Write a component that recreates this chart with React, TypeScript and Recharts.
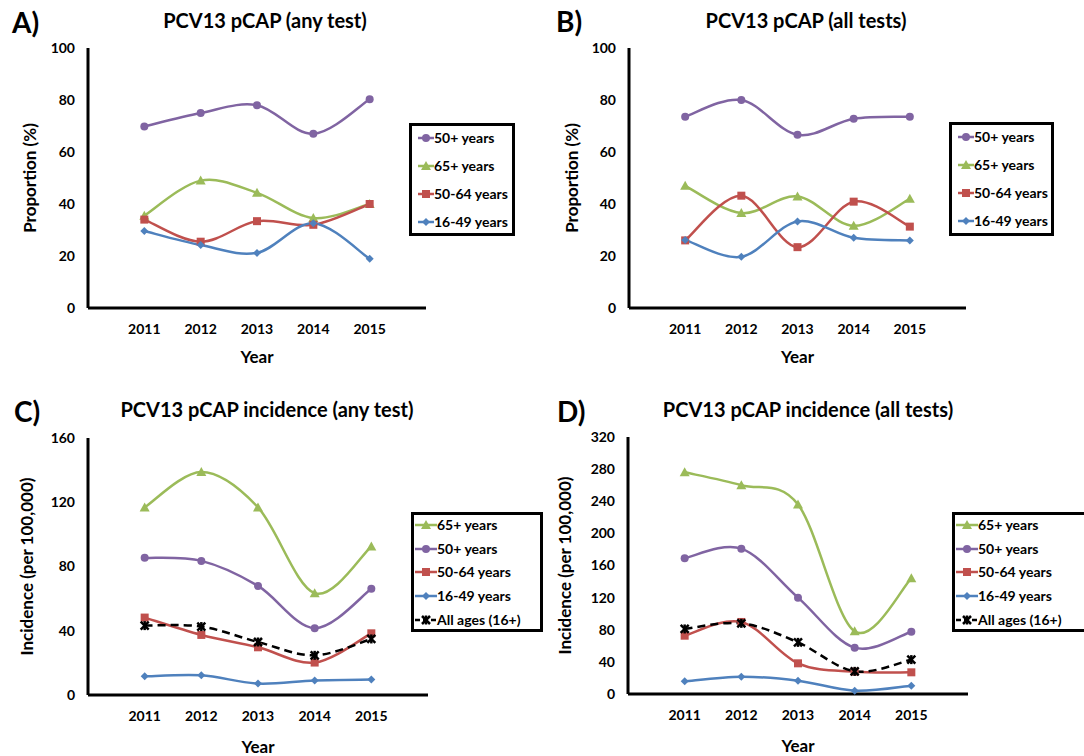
import React from "react";
import { LineChart, Line, XAxis, YAxis, Legend, Label } from "recharts";

const years = [2011, 2012, 2013, 2014, 2015];

// A) PCV13 pCAP (any test), proportion %
const anyTest50plus = [69.8, 75, 78, 67, 80.3];
const anyTest65plus = [35.5, 49, 44.3, 34.6, 40];
const anyTest5064 = [34, 25.5, 33.4, 32, 40];
const anyTest1649 = [29.6, 24.2, 21.2, 32.6, 18.9];

// B) PCV13 pCAP (all tests), proportion %
const allTests50plus = [73.6, 80, 66.6, 72.8, 73.6];
const allTests65plus = [47, 36.5, 42.9, 31.6, 42];
const allTests5064 = [26, 43.2, 23.4, 40.9, 31.3];
const allTests1649 = [26.2, 19.7, 33.3, 27, 26];

// C) incidence (any test), per 100,000
const incAny65plus = [116.8, 138.8, 116.8, 63.4, 92.5];
const incAny50plus = [85.4, 83.5, 67.9, 41.6, 66.1];
const incAny5064 = [48.2, 37.4, 29.7, 20.2, 38.4];
const incAny1649 = [11.6, 12.3, 7.1, 9.1, 9.6];
const incAnyAll = [43.2, 42.6, 33, 24.7, 34.9];

// D) incidence (all tests), per 100,000
const incAll65plus = [276, 260, 236, 78, 144];
const incAll50plus = [169, 181, 120, 57.7, 77.6];
const incAll5064 = [72.6, 89.7, 38.2, 27.8, 27];
const incAll1649 = [15.8, 21.6, 16.6, 4.2, 10.4];
const incAllAll = [81, 88, 64.3, 28.2, 42.8];

const propTicks = [0, 20, 40, 60, 80, 100];
const incAnyTicks = [0, 40, 80, 120, 160];
const incAllTicks = [0, 40, 80, 120, 160, 200, 240, 280, 320];

const PURPLE = "#8064A2";
const GREEN = "#9BBB59";
const RED = "#C0504D";
const BLUE = "#4F81BD";
const FONT = "Lato, 'Open Sans', sans-serif";

// excel-style smoothed line (catmull-rom as cubic beziers)
const curveExcel = (context: any) => {
  let pts: number[][] = [];
  return {
    areaStart() {},
    areaEnd() {},
    lineStart() {
      pts = [];
    },
    point(x: number, y: number) {
      pts.push([+x, +y]);
    },
    lineEnd() {
      const n = pts.length;
      if (!n) return;
      context.moveTo(pts[0][0], pts[0][1]);
      for (let i = 0; i < n - 1; i++) {
        const p0 = pts[i - 1] || pts[i];
        const p1 = pts[i];
        const p2 = pts[i + 1];
        const p3 = pts[i + 2] || pts[i + 1];
        context.bezierCurveTo(
          p1[0] + (p2[0] - p0[0]) / 6,
          p1[1] + (p2[1] - p0[1]) / 6,
          p2[0] - (p3[0] - p1[0]) / 6,
          p2[1] - (p3[1] - p1[1]) / 6,
          p2[0],
          p2[1]
        );
      }
    },
  };
};

const Marker = ({ shape, x, y, color }: any) => {
  switch (shape) {
    case "circle":
      return <circle cx={x} cy={y} r={4} fill={color} />;
    case "square":
      return <rect x={x - 4} y={y - 4} width={8} height={8} fill={color} />;
    case "triangle":
      return <polygon points={`${x},${y - 5} ${x + 5},${y + 4} ${x - 5},${y + 4}`} fill={color} />;
    case "diamond":
      return <polygon points={`${x},${y - 4} ${x + 4},${y} ${x},${y + 4} ${x - 4},${y}`} fill={color} />;
    default:
      return (
        <g stroke={color} strokeWidth={2.5}>
          <line x1={x - 4} y1={y - 4} x2={x + 4} y2={y + 4} />
          <line x1={x - 4} y1={y + 4} x2={x + 4} y2={y - 4} />
          <line x1={x} y1={y - 4.5} x2={x} y2={y + 4.5} />
        </g>
      );
  }
};

const s50plus = { key: "s50plus", name: "50+ years", color: PURPLE, shape: "circle" };
const s65plus = { key: "s65plus", name: "65+ years", color: GREEN, shape: "triangle" };
const s5064 = { key: "s5064", name: "50-64 years", color: RED, shape: "square" };
const s1649 = { key: "s1649", name: "16-49 years", color: BLUE, shape: "diamond" };
const sAll = { key: "sAll", name: "All ages (16+)", color: "#000", shape: "star", dashed: true };

const panels = [
  {
    letter: "A)", title: "PCV13 pCAP (any test)", yLabel: "Proportion (%)",
    left: 0, top: 0, yMax: 100, yTicks: propTicks,
    margin: { top: 48, right: 114, bottom: 8, left: 28 }, xHeight: 62, yearOffset: 7, yLabelOffset: 2,
    letterPos: [12, 33], titlePos: [265, 28],
    legend: { left: 409, top: 123, width: 106, height: 113, first: 14.5, step: 28.2, pad: 9, sample: 16 },
    series: [
      { ...s50plus, values: anyTest50plus },
      { ...s65plus, values: anyTest65plus },
      { ...s5064, values: anyTest5064 },
      { ...s1649, values: anyTest1649 },
    ],
  },
  {
    letter: "B)", title: "PCV13 pCAP (all tests)", yLabel: "Proportion (%)",
    left: 540, top: 0, yMax: 100, yTicks: propTicks,
    margin: { top: 48, right: 114, bottom: 8, left: 29 }, xHeight: 62, yearOffset: 7, yLabelOffset: 3,
    letterPos: [16, 32], titlePos: [266, 28],
    legend: { left: 409, top: 122, width: 105, height: 114, first: 14.5, step: 28.2, pad: 9, sample: 16 },
    series: [
      { ...s50plus, values: allTests50plus },
      { ...s65plus, values: allTests65plus },
      { ...s5064, values: allTests5064 },
      { ...s1649, values: allTests1649 },
    ],
  },
  {
    letter: "C)", title: "PCV13 pCAP incidence (any test)", yLabel: "Incidence (per 100,000)",
    left: 0, top: 378, yMax: 160, yTicks: incAnyTicks,
    margin: { top: 60, right: 112, bottom: 3, left: 28 }, xHeight: 58, yearOffset: 0, yLabelOffset: -1,
    letterPos: [14, 44], titlePos: [267, 39],
    legend: { left: 411, top: 134, width: 132, height: 120, first: 13, step: 23.7, pad: 4, sample: 22 },
    series: [
      { ...s65plus, values: incAny65plus },
      { ...s50plus, values: incAny50plus },
      { ...s5064, values: incAny5064 },
      { ...s1649, values: incAny1649 },
      { ...sAll, values: incAnyAll },
    ],
  },
  {
    letter: "D)", title: "PCV13 pCAP incidence (all tests)", yLabel: "Incidence (per 100,000)",
    left: 540, top: 378, yMax: 320, yTicks: incAllTicks,
    margin: { top: 59, right: 112, bottom: 4, left: 28 }, xHeight: 58, yearOffset: 0, yLabelOffset: -3,
    letterPos: [17, 44], titlePos: [268, 39],
    legend: { left: 412, top: 134, width: 140, height: 120, first: 13, step: 23.7, pad: 4, sample: 22 },
    series: [
      { ...s65plus, values: incAll65plus },
      { ...s50plus, values: incAll50plus },
      { ...s5064, values: incAll5064 },
      { ...s1649, values: incAll1649 },
      { ...sAll, values: incAllAll },
    ],
  },
];

const tickStyle = { fill: "#000", fontSize: 14, fontWeight: 700, fontFamily: FONT };
const axisTitleStyle = { fill: "#000", fontSize: 17, fontWeight: 700, fontFamily: FONT, textAnchor: "middle" as const };

const LegendBox = ({ lg, series }: any) => (
  <div
    style={{
      boxSizing: "border-box",
      width: lg.width,
      height: lg.height,
      border: "3px solid #000",
      background: "#fff",
      position: "relative",
      fontFamily: FONT,
      fontWeight: 700,
      fontSize: 14,
      color: "#000",
    }}
  >
    {series.map((s: any, i: number) => (
      <div
        key={s.key}
        style={{
          position: "absolute",
          left: lg.pad - 3,
          top: lg.first + i * lg.step - 3 - 9,
          height: 18,
          display: "flex",
          alignItems: "center",
          whiteSpace: "nowrap",
        }}
      >
        <svg width={lg.sample} height={18} style={{ display: "block" }}>
          <line
            x1={0}
            y1={9}
            x2={lg.sample}
            y2={9}
            stroke={s.color}
            strokeWidth={2.5}
            strokeDasharray={s.dashed ? "5 3" : undefined}
          />
          <Marker shape={s.shape} x={lg.sample / 2} y={9} color={s.color} />
        </svg>
        <span style={{ lineHeight: "18px" }}>{s.name}</span>
      </div>
    ))}
  </div>
);

const Panel = ({ cfg }: any) => {
  const data = years.map((year, i) => {
    const row: any = { year };
    cfg.series.forEach((s: any) => {
      row[s.key] = s.values[i];
    });
    return row;
  });
  const lg = cfg.legend;
  return (
    <div style={{ position: "absolute", left: cfg.left, top: cfg.top, width: 540, height: 378 }}>
      <svg width={540} height={378} style={{ position: "absolute", left: 0, top: 0 }}>
        <text x={cfg.letterPos[0]} y={cfg.letterPos[1]} fontSize={28} fontWeight={700} fontFamily={FONT}>
          {cfg.letter}
        </text>
        <text
          x={cfg.titlePos[0]}
          y={cfg.titlePos[1]}
          fontSize={20}
          fontWeight={700}
          fontFamily={FONT}
          textAnchor="middle"
        >
          {cfg.title}
        </text>
      </svg>
      <LineChart width={540} height={378} data={data} margin={cfg.margin}>
        <XAxis
          dataKey="year"
          type="number"
          domain={[2010, 2016]}
          ticks={years}
          axisLine={{ stroke: "#000", strokeWidth: 3 }}
          tickLine={false}
          tickSize={0}
          tickMargin={16}
          tick={tickStyle}
          height={cfg.xHeight}
        >
          <Label value="Year" position="insideBottom" offset={cfg.yearOffset} style={axisTitleStyle} />
        </XAxis>
        <YAxis
          type="number"
          domain={[0, cfg.yMax]}
          ticks={cfg.yTicks}
          axisLine={{ stroke: "#000", strokeWidth: 3 }}
          tickLine={false}
          tickSize={0}
          tickMargin={13}
          tick={tickStyle}
          width={60}
        >
          <Label
            value={cfg.yLabel}
            angle={-90}
            position="insideLeft"
            offset={cfg.yLabelOffset}
            style={axisTitleStyle}
          />
        </YAxis>
        <Legend
          layout="vertical"
          align="center"
          verticalAlign="middle"
          wrapperStyle={{ left: lg.left, top: lg.top, width: lg.width, height: lg.height }}
          content={() => <LegendBox lg={lg} series={cfg.series} />}
        />
        {cfg.series.map((s: any) => (
          <Line
            key={s.key}
            type={curveExcel as any}
            dataKey={s.key}
            name={s.name}
            stroke={s.color}
            strokeWidth={2.5}
            strokeDasharray={s.dashed ? "8 5" : undefined}
            dot={(p: any) => (
              <g key={`${s.key}-${p.index}`}>
                <Marker shape={s.shape} x={p.cx} y={p.cy} color={s.color} />
              </g>
            )}
            activeDot={false}
            isAnimationActive={false}
          />
        ))}
      </LineChart>
    </div>
  );
};

export default function App() {
  return (
    <div
      style={{
        position: "absolute",
        left: 0,
        top: 0,
        width: 1084,
        height: 756,
        overflow: "hidden",
        background: "#fff",
      }}
    >
      {panels.map((cfg) => (
        <Panel key={cfg.letter} cfg={cfg} />
      ))}
    </div>
  );
}
